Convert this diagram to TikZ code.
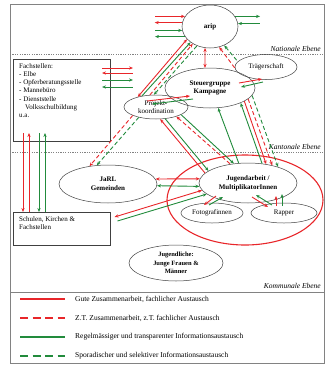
\documentclass[tikz,border=0pt]{standalone}
\usepackage{fontspec}
\setmainfont{Liberation Serif}
\usetikzlibrary{shapes.geometric,arrows.meta}
\definecolor{myred}{RGB}{232,38,42}
\definecolor{mygreen}{RGB}{34,139,60}
\definecolor{framegray}{RGB}{130,130,130}
\begin{document}
\begin{tikzpicture}[x=1pt,y=-1pt,
  font=\fontsize{7}{8.3}\selectfont,
  >={Stealth[length=4pt,width=3.2pt]},
  nd/.style={draw=black!75, line width=0.5pt, ellipse, inner sep=0pt, align=center},
  bnd/.style={nd, font=\fontsize{7}{8.8}\selectfont\bfseries},
  bx/.style={draw=black!75, line width=0.5pt, rectangle, inner sep=0pt, anchor=north west},
  boxtext/.style={anchor=north west, align=left, inner sep=0pt},
  rs/.style={draw=myred, line width=0.9pt},
  gs/.style={draw=mygreen, line width=0.9pt},
  rd/.style={rs, dash pattern=on 4pt off 2.5pt},
  gd/.style={gs, dash pattern=on 4pt off 2.5pt},
  lvl/.style={dash pattern=on 1.2pt off 1.2pt, draw=framegray, line width=0.8pt},
  framestyle/.style={draw=framegray, line width=0.8pt},
  lvltext/.style={font=\fontsize{7.5}{9}\selectfont\itshape, anchor=south east, inner sep=1pt},
  lgtext/.style={anchor=west, inner sep=0pt, font=\fontsize{7.5}{9}\selectfont},
  lgr/.style={draw=myred, line width=1.3pt},
  lgg/.style={draw=mygreen, line width=1.1pt},
  lgdash/.style={dash pattern=on 8pt off 4.5pt}
]
\useasboundingbox (0,0) rectangle (325,365);

% frame and levels
\draw[framestyle] (10,4) rectangle (324,363);
\draw[lvl] (10,54) -- (324,54);
\node[lvltext] (natl) at (322,53) {Nationale Ebene};
\draw[lvl] (10,152) -- (324,152);
\node[lvltext] (kant) at (322,151) {Kantonale Ebene};
\node[lvltext] (komm) at (322,290) {Kommunale Ebene};
\draw[framestyle] (10,292) -- (324,292);

% group ellipse
\node[draw=myred, line width=1.1pt, ellipse, minimum width=156pt, minimum height=90pt, inner sep=0pt] (grp) at (245,200) {};

% nodes
\node[bnd, minimum width=56pt, minimum height=43pt] (arip) at (210,26.5) {arip};
\node[nd, minimum width=62pt, minimum height=25pt] (traeger) at (266,67) {Trägerschaft};
\node[bnd, minimum width=90pt, minimum height=40pt] (steuer) at (210,88) {Steuergruppe\\Kampagne};
\node[nd, minimum width=64pt, minimum height=24pt] (proj) at (156,107) {Projekt-\\koordination};
\node[bnd, minimum width=98pt, minimum height=38pt] (jarl) at (108,184) {JaRL\\Gemeinden};
\node[bnd, minimum width=98pt, minimum height=40pt] (jug) at (248,183) {Jugendarbeit /\\MultiplikatorInnen};
\node[nd, minimum width=62pt, minimum height=20pt] (foto) at (212,213) {Fotografinnen};
\node[nd, minimum width=66pt, minimum height=20pt] (rapper) at (284,213) {Rapper};
\node[nd, minimum width=94pt, minimum height=36pt, font=\fontsize{6.5}{8.3}\selectfont\bfseries] (jugl) at (176,263) {Jugendliche:\\Junge Frauen \&\\Männer};

\node[bx, minimum width=97pt, minimum height=82pt] (fach) at (13,59) {};
\node[boxtext] (fachtext) at (19,63) {Fachstellen:\\- Elbe\\- Opferberatungsstelle\\- Mannebüro\\- Dienststelle\\\hspace*{6pt}Volksschulbildung\\u.a.};
\node[bx, minimum width=97pt, minimum height=33pt] (schulen) at (13,212) {};
\node[boxtext] (schulentext) at (19,216) {Schulen, Kirchen \&\\Fachstellen};

% arip free arrows
\draw[rs,<-] (arip.158) -- ++(-30,0);
\draw[rs,->] (arip.172) -- ++(-27.5,0);
\draw[gs,<-] (arip.188) -- ++(-27.5,0);
\draw[gs,->] (arip.202) -- ++(-30,0);
\draw[gs,->] (arip.22) -- ++(25,0);
\draw[gs,<-] (arip.6) -- ++(22,0);

% Fachstellen free arrows
\coordinate (fh1) at (102,68);
\coordinate (fh2) at (102,73);
\coordinate (fh3) at (102,80);
\coordinate (fh4) at (102,87);
\draw[rs,->] (fh1) -- ++(31,0);
\draw[rs,<-] (fh2) -- ++(31,0);
\draw[gs,->] (fh3) -- ++(31,0);
\draw[gs,<-] (fh4) -- ++(31,0);

% Fachstellen - Schulen
\coordinate (fv1) at (23,133);
\coordinate (fv2) at (29,133);
\coordinate (fv3) at (39,133);
\coordinate (fv4) at (45,133);
\draw[rs,->] (fv1) -- (schulen.north -| fv1);
\draw[rs,<-] (fv2) -- (schulen.north -| fv2);
\draw[gs,->] (fv3) -- (schulen.north -| fv3);
\draw[gs,<-] (fv4) -- (schulen.north -| fv4);

% arip - Projektkoordination
\draw[rs,<->] (proj.151) -- (arip.209);
\draw[gs,->] (proj.142) -- (arip.219);
\draw[rd,->] (proj.117) -- (arip.225);
\draw[gd,<-] (proj.100) -- (arip.236);

% arip - Steuergruppe
\draw[rs,<->] (arip.257) -- (steuer.104);

% arip - Traegerschaft
\draw[rd,<-] (arip.294) -- (traeger.182);
\draw[gd,<-] (arip.307) -- (traeger.169);

% Steuergruppe - Traegerschaft
\draw[rs,->] ([shift={(29,-5)}]steuer.center) -- ([shift={(-4,12)}]traeger.center);
\draw[gs,<-] ([shift={(31,-1)}]steuer.center) -- ([shift={(-3,15)}]traeger.center);

% Projektkoordination - Steuergruppe
\draw[rs,->] ([shift={(-9,-6)}]proj.center) -- ([shift={(-20,8)}]steuer.center);
\draw[gs,<-] ([shift={(-4,-3)}]proj.center) -- ([shift={(-17,11)}]steuer.center);

% Projektkoordination - JaRL
\draw[rd,->] (proj.200) -- (jarl.136);
\draw[gd,->] (proj.211) -- (jarl.121);

% Projektkoordination - Jugendarbeit
\draw[rs,<-] (proj.289) -- (jug.167);
\draw[gs,->] (proj.308) -- (jug.163);
\draw[rd,<-] (proj.335) -- (jug.133);
\draw[gs,->] (proj.343) -- (jug.126);

% Steuergruppe - Jugendarbeit
\draw[gs,<-] (steuer.292) -- (jug.115);
\draw[gs,<-] (steuer.334) -- (jug.54);
\draw[rs,->] (steuer.339) -- (jug.46);
\draw[rd,->] (steuer.344) -- (jug.36);
\draw[gd,->] (steuer.350) -- (jug.28);

% JaRL - Jugendarbeit
\draw[rs,<->] (jarl.6) -- (jug.175);
\draw[gs,<->] (jarl.358) -- (jug.184);

% Jugendarbeit - Schulen
\draw[rs,<->] (jug.189) -- ([shift={(4,5)}]schulen.north east);
\draw[gs,<-] (jug.195) -- ([shift={(7,9)}]schulen.north east);

% Jugendarbeit - Fotografinnen / Rapper
\draw[rs,->] ([shift={(-32,13)}]jug.center) -- ([shift={(-8,-8)}]foto.center);
\draw[gs,->] ([shift={(-3,-8)}]foto.center) -- ([shift={(-25,14)}]jug.center);
\draw[rs,->] ([shift={(4,14)}]jug.center) -- ([shift={(-16,-6)}]rapper.center);
\draw[gs,->] ([shift={(-12,-8)}]rapper.center) -- ([shift={(8,12)}]jug.center);
\draw[rs,->] ([shift={(-8,-7)}]rapper.center) -- ([shift={(28,13)}]jug.center);
\draw[gs,->] ([shift={(-2,-7)}]rapper.center) -- ([shift={(34,11)}]jug.center);

% legend
\coordinate (l1a) at (20,299); \coordinate (l1b) at (65,299);
\coordinate (l2a) at (20,318); \coordinate (l2b) at (65,318);
\coordinate (l3a) at (20,337); \coordinate (l3b) at (65,337);
\coordinate (l4a) at (20,356); \coordinate (l4b) at (65,356);
\draw[lgr] (l1a) -- (l1b);
\draw[lgr, lgdash] (l2a) -- (l2b);
\draw[lgg] (l3a) -- (l3b);
\draw[lgg, lgdash] (l4a) -- (l4b);
\node[lgtext] (t1) at (75,299) {Gute Zusammenarbeit, fachlicher Austausch};
\node[lgtext] (t2) at (75,318) {Z.T. Zusammenarbeit, z.T. fachlicher Austausch};
\node[lgtext] (t3) at (75,337) {Regelmässiger und transparenter Informationsaustausch};
\node[lgtext] (t4) at (75,356) {Sporadischer und selektiver Informationsaustausch};
\end{tikzpicture}
\end{document}
